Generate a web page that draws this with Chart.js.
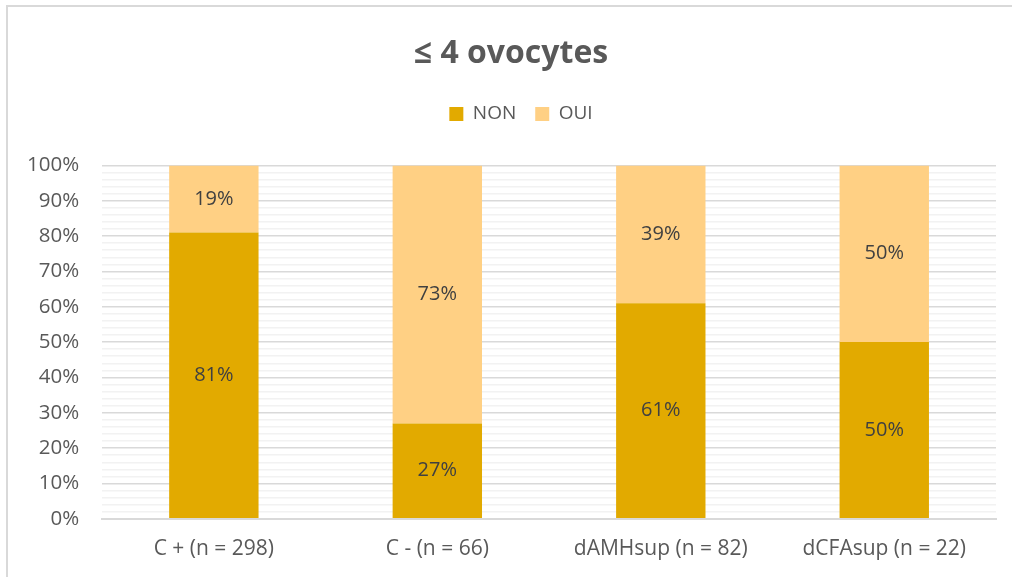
<!DOCTYPE html>
<html>
<head>
<meta charset="utf-8">
<script src="https://cdn.jsdelivr.net/npm/chart.js@4/dist/chart.umd.min.js"></script>
<style>
  html, body { margin: 0; padding: 0; background: #fff; }
  #wrap { position: relative; width: 1012px; height: 577px; overflow: hidden; }
  #frame { position: absolute; left: 6px; top: 5px; width: 1100px; height: 700px; border-left: 2px solid #d9d9d9; border-top: 2px solid #d9d9d9; box-sizing: border-box; }
  canvas { position: absolute; left: 0; top: 0; }
</style>
</head>
<body>
<div id="wrap">
  <div id="frame"></div>
  <canvas id="c" width="1012" height="577"></canvas>
</div>
<script>
const categories = ["C + (n = 298)", "C - (n = 66)", "dAMHsup (n = 82)", "dCFAsup (n = 22)"];
const nonValues = [81, 27, 61, 50];
const ouiValues = [19, 73, 39, 50];
const titleText = "\u2264 4 ovocytes";

const FONT = "'Open Sans', sans-serif";

const valueLabels = {
  id: 'valueLabels',
  afterDatasetsDraw(chart) {
    const ctx = chart.ctx;
    ctx.save();
    ctx.fillStyle = '#404040';
    ctx.font = "20px " + FONT;
    ctx.textAlign = 'center';
    ctx.textBaseline = 'middle';
    chart.data.datasets.forEach((ds, di) => {
      const meta = chart.getDatasetMeta(di);
      meta.data.forEach((el, i) => {
        const p = el.getProps(['x', 'y', 'base'], true);
        ctx.fillText(ds.data[i] + '%', p.x, (p.y + p.base) / 2);
      });
    });
    ctx.restore();
  }
};

const legendMargin = {
  id: 'legendMargin',
  beforeInit(chart) {
    if (!chart.legend) return;
    const origFit = chart.legend.fit;
    chart.legend.fit = function () {
      origFit.bind(chart.legend)();
      this.height += 32;
    };
  },
  afterLayout(chart) {
    if (chart.legend) {
      chart.legend.left += 21;
      chart.legend.right += 21;
    }
    if (chart.titleBlock) {
      chart.titleBlock.left += 11;
      chart.titleBlock.right += 11;
    }
  }
};

new Chart(document.getElementById('c'), {
  type: 'bar',
  data: {
    labels: categories,
    datasets: [
      { label: 'NON', data: nonValues, backgroundColor: '#E2AA00' },
      { label: 'OUI', data: ouiValues, backgroundColor: '#FFD084' }
    ]
  },
  options: {
    responsive: false,
    animation: false,
    devicePixelRatio: 1,
    layout: { padding: { left: 4, right: 16, top: 10, bottom: -3 } },
    datasets: { bar: { categoryPercentage: 1, barPercentage: 0.4 } },
    plugins: {
      title: {
        display: true, text: titleText, color: '#595959',
        font: { family: FONT, size: 32, weight: 'bold' },
        padding: { top: 25, bottom: 12 }
      },
      legend: {
        display: true, position: 'top',
        labels: { color: '#595959', font: { family: FONT, size: 19 }, boxWidth: 14, boxHeight: 14, padding: 19 }
      },
      tooltip: { enabled: false }
    },
    scales: {
      x: {
        stacked: true,
        grid: { display: false, drawTicks: false },
        border: { display: true, color: '#d9d9d9', width: 2 },
        ticks: { color: '#595959', font: { family: FONT, size: 21 }, padding: 18 }
      },
      y: {
        stacked: true, min: 0, max: 100,
        grid: {
          drawTicks: false,
          color: c => (c.tick && c.tick.value % 10 === 0) ? '#d9d9d9' : '#f2f2f2',
          lineWidth: 1.5
        },
        border: { display: false },
        ticks: {
          stepSize: 2, autoSkip: false, color: '#595959',
          font: { family: FONT, size: 20.5 }, padding: 23,
          callback: v => (v % 10 === 0 ? v + '%' : '')
        }
      }
    }
  },
  plugins: [valueLabels, legendMargin]
});
</script>
</body>
</html>
